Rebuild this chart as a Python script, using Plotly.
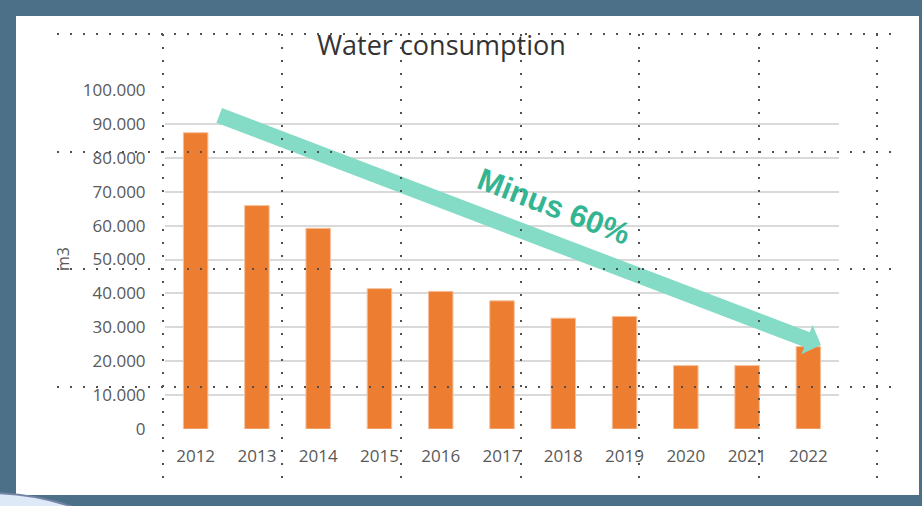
import plotly.graph_objects as go
import math

years = ["2012", "2013", "2014", "2015", "2016", "2017", "2018", "2019", "2020", "2021", "2022"]
consumption = [87400, 65900, 59200, 41400, 40600, 37800, 32700, 33200, 18700, 18700, 24300]
y_ticks = [0, 10000, 20000, 30000, 40000, 50000, 60000, 70000, 80000, 90000, 100000]

W, H = 922, 506
ML, MR, MT, MB = 165, 83, 90, 77
PW, PH = W - ML - MR, H - MT - MB


def px(x):
    return (x - ML) / PW


def py(y):
    return (H - MB - y) / PH


FONT = "Open Sans"
shapes = []
# white slide area inside frame
shapes.append(dict(type="rect", xref="paper", yref="paper", x0=px(16), x1=px(919), y0=py(495), y1=py(16),
                   fillcolor="white", line=dict(width=0), layer="below"))
# bottom-left decorative circle
shapes.append(dict(type="circle", xref="paper", yref="paper", x0=px(-262), x1=px(242), y0=py(997), y1=py(493),
                   fillcolor="#dde9f6", line=dict(color="#7484a4", width=2), layer="below"))

# block arrow
sx, sy = 219.2, 115.4
tx, ty = 821.0, 345.0
dx, dy = tx - sx, ty - sy
ln = math.hypot(dx, dy)
ux, uy = dx / ln, dy / ln
pxv, pyv = -uy, ux
hw, hh, hl = 7.85, 15.7, 15.0
bx, by = tx - ux * hl, ty - uy * hl
pts = [
    (sx - pxv * hw, sy - pyv * hw),
    (bx - pxv * hw, by - pyv * hw),
    (bx - pxv * hh, by - pyv * hh),
    (tx, ty),
    (bx + pxv * hh, by + pyv * hh),
    (bx + pxv * hw, by + pyv * hw),
    (sx + pxv * hw, sy + pyv * hw),
]
path = "M " + " L ".join(f"{px(a):.5f},{py(b):.5f}" for a, b in pts) + " Z"
shapes.append(dict(type="path", xref="paper", yref="paper", path=path,
                   fillcolor="#84dbc6", line=dict(width=0), layer="above"))

# dotted guides
dot = dict(color="#505050", width=2, dash="2px,11px")
for gy in [34, 152, 269, 387]:
    shapes.append(dict(type="line", xref="paper", yref="paper", x0=px(57), x1=px(893), y0=py(gy), y1=py(gy),
                       line=dot, layer="above"))
for gx in [163, 282, 401, 521, 639, 759, 877]:
    shapes.append(dict(type="line", xref="paper", yref="paper", x0=px(gx), x1=px(gx), y0=py(34), y1=py(481),
                       line=dot, layer="above"))

fig = go.Figure()
fig.add_trace(go.Bar(x=years, y=consumption, marker=dict(color="#ed7d31", line=dict(color="#f6c09b", width=1)),
                     hoverinfo="x+y"))

fig.update_layout(
    width=W, height=H,
    margin=dict(l=ML, r=MR, t=MT, b=MB),
    paper_bgcolor="#4b7088",
    plot_bgcolor="rgba(0,0,0,0)",
    separators=",.",
    bargap=0.6,
    showlegend=False,
    shapes=shapes,
    title=dict(text="Water consumption", x=441.5 / W, xanchor="center", y=1 - 46 / H, yanchor="middle",
               font=dict(family=FONT, size=27, color="#333333")),
    xaxis=dict(showgrid=False, showline=False, zeroline=False, ticks="outside", ticklen=12,
               tickcolor="rgba(0,0,0,0)", tickfont=dict(family=FONT, size=17, color="#595959")),
    yaxis=dict(range=[0, 100000], tickvals=y_ticks, tickformat=",d", showgrid=True, gridcolor="#d9d9d9",
               gridwidth=1.5, zeroline=False, showline=False, ticks="outside", ticklen=15,
               tickcolor="rgba(0,0,0,0)", tickfont=dict(family=FONT, size=17, color="#595959")),
    annotations=[
        dict(text="m3", xref="paper", yref="paper", x=px(63), y=py(259), xanchor="center", yanchor="middle",
             textangle=-90, showarrow=False, font=dict(family=FONT, size=16, color="#595959")),
        dict(text="<b>Minus 60%</b>", xref="paper", yref="paper", x=px(554), y=py(206), xanchor="center",
             yanchor="middle", textangle=21, showarrow=False,
             font=dict(family="Liberation Sans", size=31, color="#33b592")),
    ],
)

fig.write_html("out.html", config={"displayModeBar": False},
               post_script="document.body.style.margin='0';document.body.style.overflow='hidden';")
